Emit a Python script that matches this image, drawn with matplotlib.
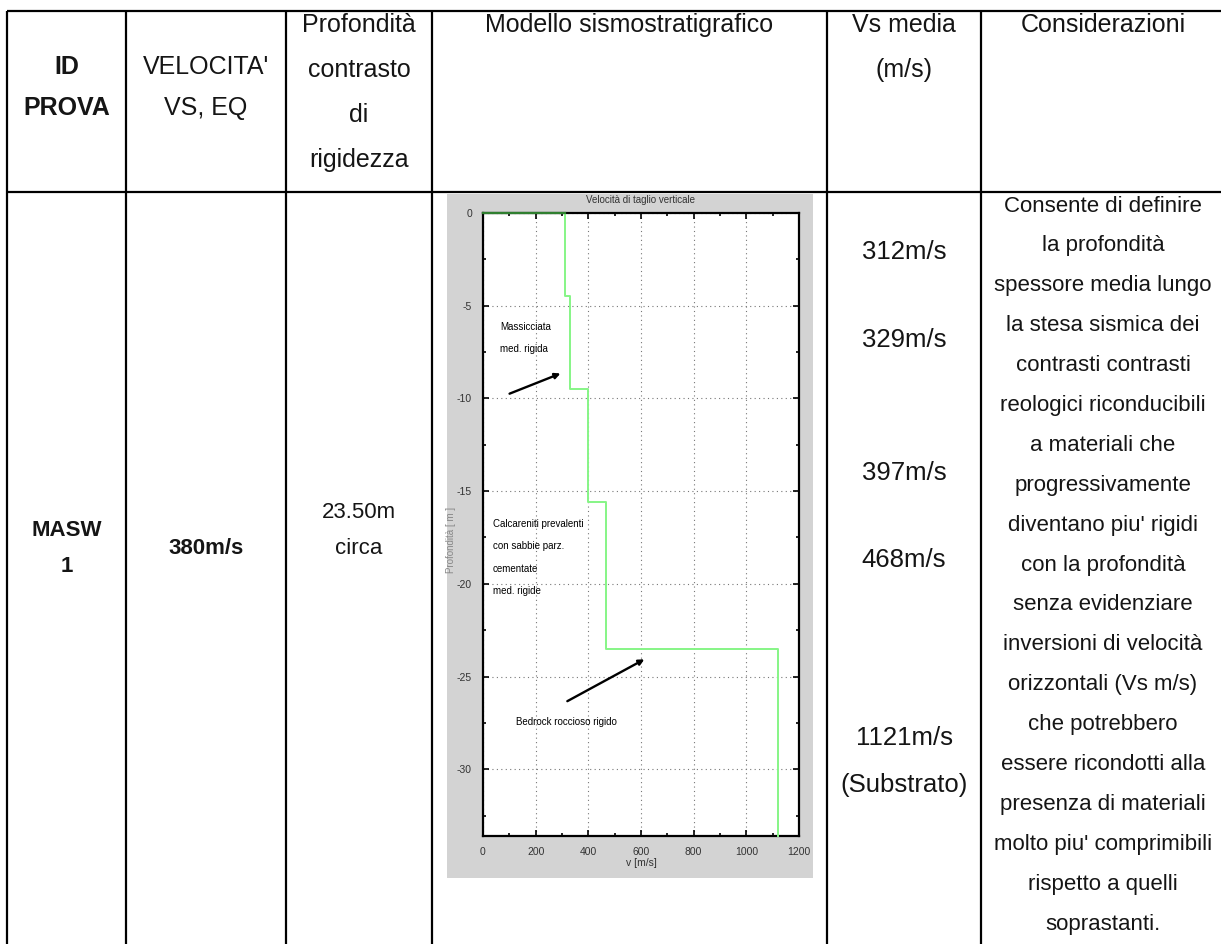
import numpy as np
import matplotlib.pyplot as plt
from matplotlib.patches import Rectangle

plt.rcParams['font.family'] = ['Liberation Sans', 'DejaVu Sans']
plt.rcParams['axes.unicode_minus'] = False

# Seismic layers from the MASW test
vs_layers = [312, 329, 397, 468, 1121]          # m/s
layer_tops = [0.0, 4.5, 9.5, 15.6, 23.5]        # m below ground
max_depth = 33.6
vs_labels = ["312m/s", "329m/s", "397m/s", "468m/s", "1121m/s\n(Substrato)"]

test_id = ["MASW", "1"]
vs_eq = "380m/s"
contrast_depth = ["23.50m", "circa"]

header_cols = [
    ["ID", "PROVA"],
    ["VELOCITA'", "VS, EQ"],
    ["Profondità", "contrasto", "di", "rigidezza"],
    ["Modello sismostratigrafico"],
    ["Vs media", "(m/s)"],
    ["Considerazioni"],
]

notes = [
    "Consente di definire", "la profondità", "spessore media lungo",
    "la stesa sismica dei", "contrasti contrasti", "reologici riconducibili",
    "a materiali che", "progressivamente", "diventano piu' rigidi",
    "con la profondità", "senza evidenziare", "inversioni di velocità",
    "orizzontali (Vs m/s)", "che potrebbero", "essere ricondotti alla",
    "presenza di materiali", "molto piu' comprimibili", "rispetto a quelli",
    "soprastanti.",
]

W, H = 1221, 944
fig = plt.figure(figsize=(W / 100, H / 100), dpi=100)
fig.patch.set_facecolor('white')

# table drawn in pixel coordinates
tab = fig.add_axes([0, 0, 1, 1])
tab.set_xlim(0, W)
tab.set_ylim(H, 0)
tab.axis('off')

col_x = [7, 126, 286, 432, 827, 981]
top_y, head_y = 11, 192
col_c = [(col_x[i] + col_x[i + 1]) / 2 for i in range(5)] + [1103]

tab.hlines([top_y, head_y], col_x[0], W, color='black', lw=1.6)
tab.vlines(col_x, top_y, H, color='black', lw=1.6)

txt = '#151515'
head_fs = 18
body_fs = 16
vs_fs = 18.5
head_line = 45
for i, lines in enumerate(header_cols):
    if len(lines) == 2 and i < 2:
        ys = [67, 108]
    else:
        ys = [25 + head_line * k for k in range(len(lines))]
    for s, y in zip(lines, ys):
        tab.text(col_c[i], y, s, ha='center', va='center', fontsize=head_fs,
                 color=txt, fontweight='bold' if i == 0 else 'normal')

# body row
for s, y in zip(test_id, [530, 566]):
    tab.text(col_c[0], y, s, ha='center', va='center', fontsize=body_fs,
             fontweight='bold', color=txt)
tab.text(col_c[1], 548, vs_eq, ha='center', va='center', fontsize=body_fs,
         fontweight='bold', color=txt)
for s, y in zip(contrast_depth, [513, 549]):
    tab.text(col_c[2], y, s, ha='center', va='center', fontsize=body_fs, color=txt)

for s, y in zip(vs_labels, [252, 340, 473, 560, 738]):
    for k, part in enumerate(s.split('\n')):
        tab.text(col_c[4], y + 47 * k, part, ha='center', va='center',
                 fontsize=vs_fs, color=txt)

for k, s in enumerate(notes):
    tab.text(col_c[5], 206 + 39.9 * k, s, ha='center', va='center',
             fontsize=body_fs, color=txt)

# grey frame behind the profile plot
tab.add_patch(Rectangle((447, 194), 813 - 447, 878 - 194,
                        facecolor='#d3d3d3', edgecolor='none', zorder=0))

# shear-wave velocity profile
ax_l, ax_r, ax_t, ax_b = 483, 799, 213, 836
ax = fig.add_axes([ax_l / W, 1 - ax_b / H, (ax_r - ax_l) / W, (ax_b - ax_t) / H])
ax.set_facecolor('white')

vx = [0]
vy = [0]
for v, top, bot in zip(vs_layers, layer_tops, layer_tops[1:] + [max_depth]):
    vx += [v, v]
    vy += [-top, -bot]
ax.plot(vx, vy, color='#86f586', lw=1.4, zorder=3, clip_on=False)
# surface segment sits on the top frame line
ax.plot(vx[:2], vy[:2], color='#2f7f2f', lw=1.6, zorder=4, clip_on=False)

ax.set_xlim(0, 1200)
ax.set_ylim(-max_depth, 0)
ax.set_xticks(np.arange(0, 1201, 200))
ax.set_xticks(np.arange(100, 1200, 200), minor=True)
ax.set_yticks(np.arange(0, -31, -5))
ax.set_yticks(np.arange(-2.5, -33, -5), minor=True)
ax.grid(True, which='major', ls=(0, (1, 3)), color='#777777', lw=0.8)
ax.tick_params(which='both', direction='in', top=True, right=True,
               labelsize=7.5, pad=8, width=1.2, colors='black')
ax.tick_params(which='major', length=4)
ax.tick_params(which='minor', length=2.5)
for sp in ax.spines.values():
    sp.set_linewidth(1.6)
    sp.set_zorder(2)
small = ['Liberation Sans Narrow', 'Liberation Sans']
for lab in ax.get_xticklabels() + ax.get_yticklabels():
    lab.set_family(small)
    lab.set_color('#333333')
ax.set_xlabel('v [m/s]', fontsize=7.5, family=small, color='#333333', labelpad=1)
ax.set_ylabel('Profondità [ m ]', fontsize=7, family=small, color='#888888')
ax.yaxis.set_label_coords(-0.085, 0.475)
ax.set_title('Velocità di taglio verticale', fontsize=7, family=small,
             color='#333333', pad=7)

arrow = dict(arrowstyle='-|>', color='black', lw=1.7, mutation_scale=8)
ann_font = dict(fontsize=7, family=small, color='black', va='top', ha='left')
ax.text(65, -5.9, 'Massicciata\nmed. rigida', linespacing=2.4, **ann_font)
ax.annotate('', xy=(304, -8.6), xytext=(91, -9.8), arrowprops=arrow)
ax.text(38, -16.5, 'Calcareniti prevalenti\ncon sabbie parz.\ncementate\nmed. rigide',
        linespacing=2.55, **ann_font)
ax.text(125, -27.2, 'Bedrock roccioso rigido', **ann_font)
ax.annotate('', xy=(622, -24.0), xytext=(311, -26.4), arrowprops=arrow)

fig.savefig('out.png', dpi=100)
